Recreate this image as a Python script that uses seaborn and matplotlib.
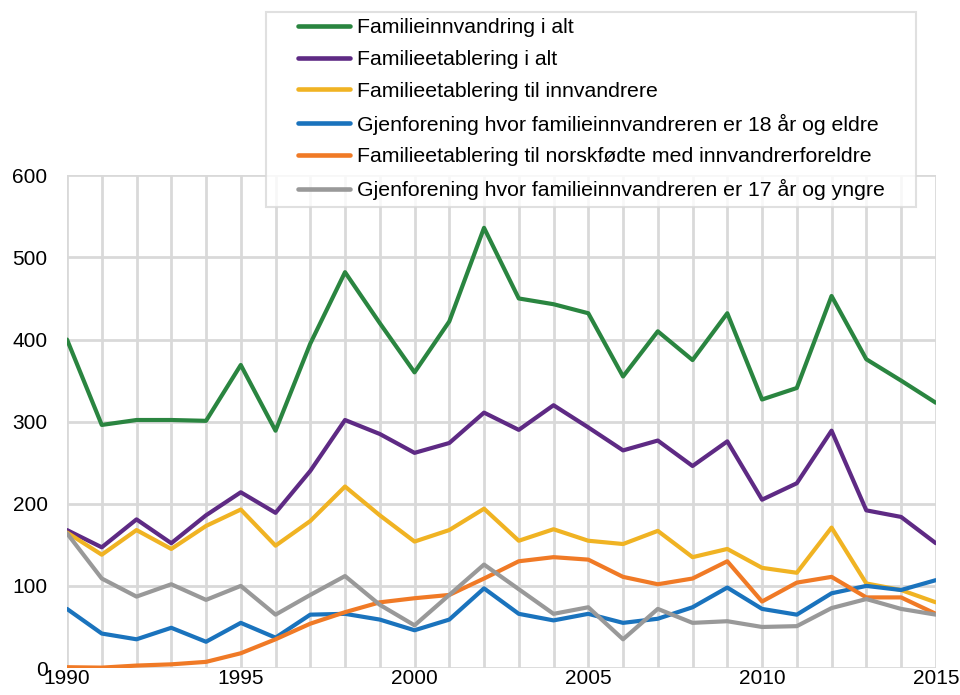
import numpy as np
import pandas as pd
import matplotlib
matplotlib.use("Agg")
import matplotlib.pyplot as plt
from matplotlib.lines import Line2D
from matplotlib.legend_handler import HandlerLine2D
import seaborn as sns

years = list(range(1990, 2016))

familieinnvandring = [400, 296, 302, 302, 301, 369, 289, 395, 482, 420, 360, 422, 536,
                      450, 443, 432, 355, 410, 375, 432, 327, 341, 453, 376, 350, 323]
familieetablering = [168, 147, 181, 152, 186, 214, 189, 240, 302, 285, 262, 274, 311,
                     290, 320, 293, 265, 277, 246, 276, 205, 225, 289, 192, 184, 152]
etabl_innvandrere = [165, 138, 168, 145, 173, 193, 149, 179, 221, 186, 154, 168, 194,
                     155, 169, 155, 151, 167, 135, 145, 122, 116, 171, 103, 95, 80]
gjenf_18 = [72, 42, 35, 49, 32, 55, 37, 65, 66, 59, 46, 59, 97,
            66, 58, 66, 55, 60, 74, 98, 72, 65, 91, 100, 95, 107]
etabl_norskfodte = [1, 0.5, 3, 4.5, 7.5, 18, 35, 54, 68, 80, 85, 89, 109,
                    130, 135, 132, 111, 102, 109, 130, 81, 104, 111, 86, 86, 66]
gjenf_17 = [164, 109, 87, 102, 83, 100, 65, 89, 112, 77, 52, 89, 126,
            96, 66, 74, 35, 72, 55, 57, 50, 51, 73, 84, 72, 65]

labels = ["Familieinnvandring i alt",
          "Familieetablering i alt",
          "Familieetablering til innvandrere",
          "Gjenforening hvor familieinnvandreren er 18 år og eldre",
          "Familieetablering til norskfødte med innvandrerforeldre",
          "Gjenforening hvor familieinnvandreren er 17 år og yngre"]
series = [familieinnvandring, familieetablering, etabl_innvandrere,
          gjenf_18, etabl_norskfodte, gjenf_17]
colors = ["#2a8540", "#5e2a84", "#f0b323", "#1a73bd", "#f07a26", "#999999"]

df = pd.concat([pd.DataFrame({"år": years, "antall": s, "serie": lab})
                for lab, s in zip(labels, series)], ignore_index=True)

sns.set_style("white")
plt.rcParams["font.family"] = ["Liberation Sans", "DejaVu Sans"]
plt.rcParams["text.color"] = "black"

fig = plt.figure(figsize=(9.6, 6.95), dpi=100)
ax = fig.add_axes([0.0698, 0.0388, 0.905, 0.709])

sns.lineplot(data=df, x="år", y="antall", hue="serie", hue_order=labels,
             palette=colors, linewidth=3, ax=ax, legend=True)

ax.set_xlim(1990, 2015)
ax.set_ylim(0, 600)
ax.set_xticks(range(1990, 2016, 5))
ax.set_xticks(range(1990, 2016), minor=True)
ax.set_yticks(range(0, 601, 100))
ax.grid(True, which="both", color="#d9d9d9", linewidth=2)
ax.set_axisbelow(True)
for s in ax.spines.values():
    s.set_visible(False)
ax.tick_params(axis="both", which="both", length=0, labelsize=15, labelcolor="black")
ax.tick_params(axis="y", pad=14)
ax.tick_params(axis="x", pad=1)
ax.set_xlabel("")
ax.set_ylabel("")

# legend box sits above the plot, partly over the top gridline
handles, labs = ax.get_legend_handles_labels()
ax.legend_.remove()
top = 1 - 12 / 695
leg = fig.legend(handles, labs, loc="upper left",
                 bbox_to_anchor=(266 / 960, top - 0.01, 650 / 960, 0.01),
                 mode="expand", fontsize=15.3, frameon=True, fancybox=False,
                 handlelength=3.65, labelspacing=0.6, borderpad=0.3,
                 handletextpad=0.33, borderaxespad=0,
                 handler_map={Line2D: HandlerLine2D(xpad=1.2)})
leg.get_frame().set_edgecolor("#d9d9d9")
leg.get_frame().set_linewidth(1.5)
for line in leg.get_lines():
    line.set_linewidth(3.3)

fig.savefig("out.png", dpi=100)
